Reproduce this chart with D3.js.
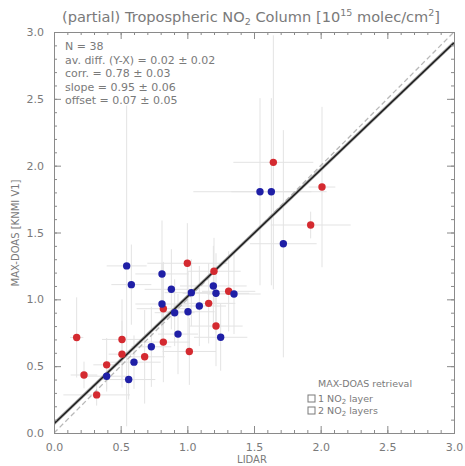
<!DOCTYPE html>
<html><head><meta charset="utf-8">
<script src="https://cdn.jsdelivr.net/npm/d3@7"></script>
<style>body{margin:0;background:#fff}</style>
</head><body><svg id="c" width="465" height="466"></svg>
<script>
// ---- data ----
const redX  = [0.17,0.225,0.32,0.395,0.51,0.51,0.68,0.82,0.82,1.00,1.015,1.16,1.20,1.215,1.31,1.645,1.925,2.01];
const redY  = [0.715,0.434,0.285,0.51,0.70,0.59,0.57,0.68,0.93,1.27,0.61,0.97,1.21,0.80,1.06,2.025,1.556,1.84];
const redXe = [0.05,0.10,0.25,0.10,0.15,0.10,0.15,0.20,0.20,0.30,0.20,0.20,0.20,0.20,0.20,0.30,0.30,0.10];
const redYe = [0.30,0.10,0.08,0.20,0.30,0.25,0.35,0.30,0.35,0.30,0.25,0.30,0.25,0.30,0.30,0.95,0.10,0.60];
const blueX  = [0.395,0.545,0.56,0.58,0.60,0.73,0.81,0.81,0.88,0.905,0.93,1.005,1.03,1.09,1.195,1.215,1.25,1.35,1.545,1.63,1.72];
const blueY  = [0.425,1.25,0.40,1.11,0.53,0.645,1.19,0.965,1.075,0.90,0.74,0.907,1.05,0.95,1.10,1.045,0.716,1.04,1.805,1.805,1.416];
const blueXe = [0.15,0.15,0.20,0.15,0.20,0.15,0.20,0.20,0.20,0.15,0.15,0.20,0.20,0.20,0.25,0.25,0.20,0.20,0.50,0.30,0.25];
const blueYe = [0.10,1.20,0.15,0.30,0.20,0.30,0.40,0.30,0.30,0.25,0.30,0.30,0.25,0.30,0.30,0.30,0.25,0.30,0.70,0.70,0.85];
const majorTicks = [0,0.5,1.0,1.5,2.0,2.5,3.0];
const tickLabels = ["0.0","0.5","1.0","1.5","2.0","2.5","3.0"];
const statLines = ["N = 38","av. diff. (Y-X) = 0.02 \u00b1 0.02","corr. = 0.78 \u00b1 0.03","slope = 0.95 \u00b1 0.06","offset = 0.07 \u00b1 0.05"];
const fitSlope = 0.95, fitOffset = 0.07;

// ---- layout ----
const L=54,R=454,T=32,B=433;
const svg=d3.select("#c");
const x=d3.scaleLinear().domain([0,3]).range([L,R]);
const y=d3.scaleLinear().domain([0,3]).range([B,T]);
const font="DejaVu Sans, sans-serif";
const txt="#7a7a7a", ax="#8a8a8a";

const pts=[];
redX.forEach((v,i)=>pts.push({x:v,y:redY[i],xe:redXe[i],ye:redYe[i],c:"#d42a30"}));
blueX.forEach((v,i)=>pts.push({x:v,y:blueY[i],xe:blueXe[i],ye:blueYe[i],c:"#1f1fa6"}));

svg.append("clipPath").attr("id","pc").append("rect").attr("x",L).attr("y",T).attr("width",R-L).attr("height",B-T);
const g=svg.append("g").attr("clip-path","url(#pc)");
// error bars
const eb=g.append("g").attr("stroke","#e3e3e3").attr("stroke-width",1);
pts.forEach(p=>{
  eb.append("line").attr("x1",x(p.x-p.xe)).attr("x2",x(p.x+p.xe)).attr("y1",y(p.y)).attr("y2",y(p.y));
  eb.append("line").attr("x1",x(p.x)).attr("x2",x(p.x)).attr("y1",y(p.y-p.ye)).attr("y2",y(p.y+p.ye));
});
// 1:1 line
g.append("line").attr("x1",x(0)).attr("y1",y(0)).attr("x2",x(3)).attr("y2",y(3))
 .attr("stroke","#b8b8b8").attr("stroke-width",1.3).attr("stroke-dasharray","5,3");
// fit line
g.append("line").attr("x1",x(0)).attr("y1",y(fitOffset)).attr("x2",x(3)).attr("y2",y(fitOffset+3*fitSlope))
 .attr("stroke","#a0a0a0").attr("stroke-width",3);
g.append("line").attr("x1",x(0)).attr("y1",y(fitOffset)).attr("x2",x(3)).attr("y2",y(fitOffset+3*fitSlope))
 .attr("stroke","#1a1a1a").attr("stroke-width",1.4);
// points
g.selectAll("circle.p").data(pts).enter().append("circle")
 .attr("cx",d=>x(d.x)).attr("cy",d=>y(d.y)).attr("r",3.7).attr("fill",d=>d.c);

// axes
const minor=d3.range(0,3.0001,0.1).map(v=>+v.toFixed(1));
function axes(axisFn, scale, tx, ty, labels){
  const a=svg.append("g").attr("transform",`translate(${tx},${ty})`);
  a.call(axisFn(scale).tickValues(minor).tickSize(-3).tickFormat(""));
  const b=svg.append("g").attr("transform",`translate(${tx},${ty})`);
  b.call(axisFn(scale).tickValues(majorTicks).tickSize(-7).tickPadding(10)
     .tickFormat(labels?((d,i)=>tickLabels[i]):""));
  [a,b].forEach(s=>{s.selectAll("line").attr("stroke",ax);s.select(".domain").attr("stroke",ax);
    s.selectAll("text").attr("fill",txt).style("font-family",font).style("font-size","11px");});
}
axes(d3.axisBottom,x,0,B,true);
axes(d3.axisTop,x,0,T,false);
axes(d3.axisLeft,y,L,0,true);
axes(d3.axisRight,y,R,0,false);

// title
const t=svg.append("text").attr("x",251).attr("y",22).attr("text-anchor","middle")
 .attr("fill",txt).style("font-family",font).style("font-size","14.6px");
t.append("tspan").text("(partial) Tropospheric NO");
t.append("tspan").attr("dy",3).style("font-size","9.5px").text("2");
t.append("tspan").attr("dy",-3).text(" Column [10");
t.append("tspan").attr("dy",-6).style("font-size","9.5px").text("15");
t.append("tspan").attr("dy",6).text(" molec/cm");
t.append("tspan").attr("dy",-6).style("font-size","9.5px").text("2");
t.append("tspan").attr("dy",6).text("]");

// axis labels
svg.append("text").attr("x",252).attr("y",463).attr("text-anchor","middle").attr("fill",txt)
 .style("font-family",font).style("font-size","10px").text("LIDAR");
svg.append("text").attr("transform","translate(19,233) rotate(-90)").attr("text-anchor","middle").attr("fill",txt)
 .style("font-family",font).style("font-size","10px").text("MAX-DOAS [KNMI V1]");

// stats
statLines.forEach((s,i)=>svg.append("text").attr("x",65).attr("y",50+i*13.6).attr("fill",txt)
 .style("font-family",font).style("font-size","11px").text(s));

// legend
svg.append("text").attr("x",318).attr("y",387).attr("fill",txt).style("font-family",font).style("font-size","9.5px").text("MAX-DOAS retrieval");
[["1","layer"],["2","layers"]].forEach((d,i)=>{
  const yy=402+i*12;
  svg.append("rect").attr("x",308).attr("y",yy-7).attr("width",7).attr("height",7).attr("fill","none").attr("stroke",txt);
  const tt=svg.append("text").attr("x",318).attr("y",yy).attr("fill",txt).style("font-family",font).style("font-size","9.5px");
  tt.append("tspan").text(d[0]+" NO");
  tt.append("tspan").attr("dy",2).style("font-size","7px").text("2");
  tt.append("tspan").attr("dy",-2).text(" "+d[1]);
});
</script></body></html>
